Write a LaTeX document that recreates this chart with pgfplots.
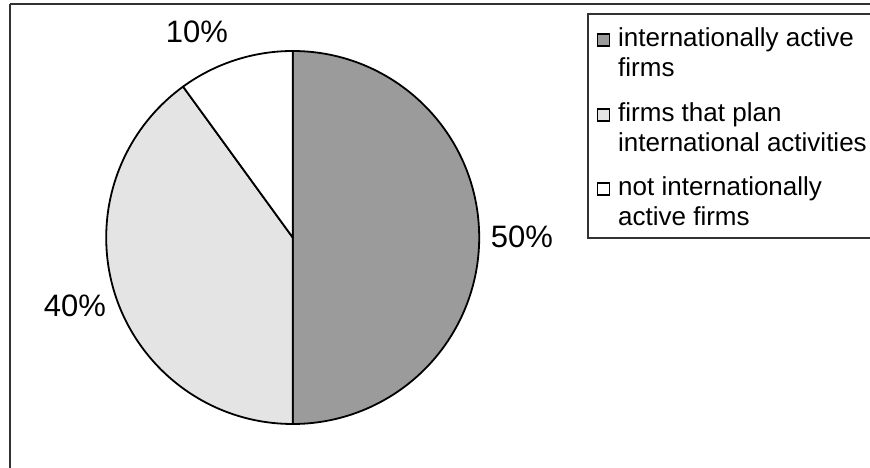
\documentclass[border=0pt]{standalone}
\usepackage{pgfplots}
\usepackage{pgfplotstable}
\pgfplotsset{compat=1.18}
\usepackage{fontspec}
\setmainfont{Liberation Sans}
\definecolor{darkg}{RGB}{155,155,155}
\definecolor{lightg}{RGB}{228,228,228}
\definecolor{framec}{RGB}{50,50,50}

\pgfplotstableread{
label value
active 50
plan 40
notactive 10
}\piedata

\begin{document}
\begin{tikzpicture}
\pgfplotstablegetelem{0}{value}\of\piedata \let\va\pgfplotsretval
\pgfplotstablegetelem{1}{value}\of\piedata \let\vb\pgfplotsretval
\pgfplotstablegetelem{2}{value}\of\piedata \let\vc\pgfplotsretval
\pgfmathsetmacro\aA{90}
\pgfmathsetmacro\aB{\aA-3.6*\va}
\pgfmathsetmacro\aC{\aB-3.6*\vb}
\pgfmathsetmacro\aD{\aC-3.6*\vc}
\useasboundingbox (0pt,0pt) rectangle (870pt,468pt);
\begin{axis}[
  at={(10pt,0pt)}, anchor=south west,
  width=860pt, height=464pt, scale only axis,
  xmin=10, xmax=870, ymin=0, ymax=464,
  axis x line*=top, axis y line*=left,
  axis line style={-, line width=1.2pt, framec},
  xtick=\empty, ytick=\empty,
  clip=true,
]
% pie wedges
\filldraw[fill=darkg, draw=black, line width=1.8pt, line join=round]
  (axis cs:292.7,230.5) -- ++(\aA:186.5pt) arc[start angle=\aA, end angle=\aB, radius=186.5pt] -- cycle;
\filldraw[fill=lightg, draw=black, line width=1.8pt, line join=round]
  (axis cs:292.7,230.5) -- ++(\aB:186.5pt) arc[start angle=\aB, end angle=\aC, radius=186.5pt] -- cycle;
\filldraw[fill=white, draw=black, line width=1.8pt, line join=round]
  (axis cs:292.7,230.5) -- ++(\aC:186.5pt) arc[start angle=\aC, end angle=\aD, radius=186.5pt] -- cycle;
% percent labels
\node[anchor=base, font=\fontsize{31}{37}\selectfont, inner sep=0pt] at (axis cs:197,425) {\vc\%};
\node[anchor=base, font=\fontsize{31}{37}\selectfont, inner sep=0pt] at (axis cs:522,220) {\va\%};
\node[anchor=base, font=\fontsize{31}{37}\selectfont, inner sep=0pt] at (axis cs:75,151) {\vb\%};
% legend
\draw[line width=1.2pt, framec] (axis cs:588,454) rectangle (axis cs:900,230);
\filldraw[fill=darkg, draw=black, line width=1.2pt] (axis cs:597.5,422) rectangle (axis cs:609.5,434);
\filldraw[fill=lightg, draw=black, line width=1.2pt] (axis cs:597.5,347) rectangle (axis cs:609.5,359);
\filldraw[fill=white, draw=black, line width=1.2pt] (axis cs:597.5,273) rectangle (axis cs:609.5,285);
\begin{scope}[every node/.style={anchor=base west, inner sep=0pt, font=\fontsize{26}{30}\selectfont}]
\node at (axis cs:618,421) {internationally active};
\node at (axis cs:618,391) {firms};
\node at (axis cs:618,346) {firms that plan};
\node at (axis cs:618,316) {international activities};
\node at (axis cs:618,272) {not internationally};
\node at (axis cs:618,242) {active firms};
\end{scope}
\end{axis}
\end{tikzpicture}
\end{document}
